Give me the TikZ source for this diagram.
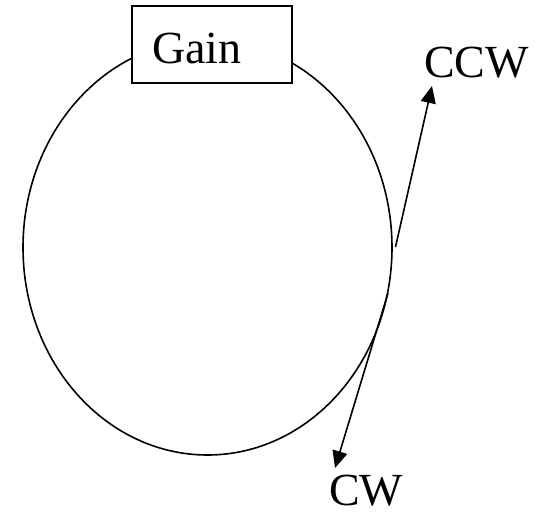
\documentclass[tikz,border=0pt]{standalone}
\usepackage{fontspec}
\setmainfont{Liberation Serif}
\usetikzlibrary{shapes.geometric,arrows.meta}
\begin{document}
\begin{tikzpicture}[x=1pt,y=-1pt,
  line/.style={line width=1.6pt},
  lbl/.style={font=\fontsize{46}{50}\selectfont, inner sep=0pt, anchor=base west},
  arr/.style={line width=1.6pt, -{Triangle[length=17pt,width=15pt]}}]
\useasboundingbox (0,0) rectangle (544,517);
\node[ellipse, draw, line, inner sep=0pt, minimum width=369pt, minimum height=415pt] (loop) at (207.5,247.5) {};
\node[draw, line, fill=white, inner sep=0pt, minimum width=160pt, minimum height=77pt] (gainbox) at (212,44.5) {};
\node[lbl] (gain) at (152,63) {Gain};
\node[lbl] (ccw) at (424,77) {CCW};
\node[lbl, text depth=0pt] (cw) at (329,505) {CW};
\coordinate (ccwstart) at (395.5,247);
\coordinate (ccwtip) at (432,86);
\coordinate (cwstart) at (388,293);
\coordinate (cwtip) at (335,468);
\draw[arr] (ccwstart) -- (ccwtip);
\draw[arr] (cwstart) -- (cwtip);
\end{tikzpicture}
\end{document}
